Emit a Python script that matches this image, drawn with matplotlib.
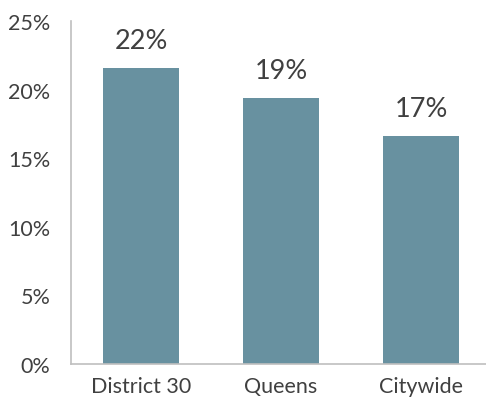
import matplotlib
matplotlib.use('Agg')
import matplotlib.pyplot as plt
from matplotlib.ticker import FuncFormatter

plt.rcParams['font.family'] = ['Lato', 'DejaVu Sans']

categories = ['District 30', 'Queens', 'Citywide']
values = [21.55, 19.4, 16.6]
value_labels = ['22%', '19%', '17%']
y_ticks = [0, 5, 10, 15, 20, 25]

bar_color = '#6891A0'
text_color = '#404040'
spine_color = '#BFBFBF'

fig = plt.figure(figsize=(4.86, 4.10), dpi=100)
ax = fig.add_axes([71 / 486, (410 - 365) / 410, 420 / 486, 343 / 410])

x = range(len(categories))
bars = ax.bar(x, values, width=0.543, color=bar_color, zorder=2)
for b, lab in zip(bars, value_labels):
    ax.text(b.get_x() + b.get_width() / 2, b.get_height() + 1.1, lab,
            ha='center', va='bottom', fontsize=19.5, color=text_color)

ax.set_xlim(-0.5, 2.5)
ax.set_ylim(0, 25)
ax.set_yticks(y_ticks)
ax.yaxis.set_major_formatter(FuncFormatter(lambda v, p: f'{v:.0f}%'))
ax.set_xticks(list(x))
ax.set_xticklabels(categories)
ax.tick_params(axis='both', length=0, labelsize=15.5, colors=text_color)
ax.tick_params(axis='x', pad=9)
ax.tick_params(axis='y', pad=15)

ax.spines['right'].set_visible(False)
ax.spines['top'].set_visible(False)
ax.spines['left'].set_color(spine_color)
ax.spines['bottom'].set_color(spine_color)
ax.spines['left'].set_linewidth(1.2)
ax.spines['bottom'].set_linewidth(1.2)

fig.savefig('out.png', dpi=100)
